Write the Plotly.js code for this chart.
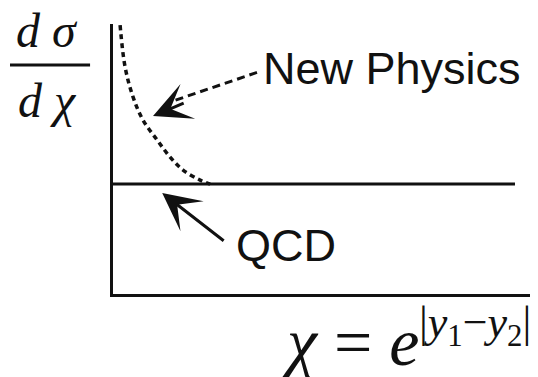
<!DOCTYPE html>
<html>
<head>
<meta charset="utf-8">
<script src="https://cdn.plot.ly/plotly-3.0.1.min.js"></script>
<style>
  body { margin: 0; background: #fff; }
  #chart { width: 538px; height: 377px; }
</style>
</head>
<body>
<div id="chart"></div>
<script>
// new physics curve (dashed), arbitrary units
var npX = [0.17, 0.29, 0.48, 0.72, 1.06, 1.37, 1.68, 2.09, 2.33];
var npY = [9.96, 8.41, 7.30, 6.44, 5.70, 5.07, 4.59, 4.22, 4.07];

// flat QCD expectation
var qcdX = [0, 9.64];
var qcdY = [4.07, 4.07];

// dashed pointer from the "New Physics" label
var ptrX = [1.5, 3.48];
var ptrY = [7.18, 8.22];

var curve = {
    x: npX,
    y: npY,
    mode: "lines",
    line: {color: "#111", width: 3.5, dash: "5px,4px", shape: "spline"},
    hoverinfo: "skip"
};

var qcd = {
    x: qcdX,
    y: qcdY,
    mode: "lines",
    line: {color: "#111", width: 3},
    hoverinfo: "skip"
};

var pointer = {
    x: ptrX,
    y: ptrY,
    mode: "lines",
    line: {color: "#111", width: 3, dash: "8px,5px"},
    hoverinfo: "skip"
};

var axisStyle = {
    range: [0, 10],
    showline: true,
    linecolor: "#111",
    linewidth: 3,
    showgrid: false,
    zeroline: false,
    showticklabels: false,
    ticks: "",
    fixedrange: true
};

var sans = {family: "Liberation Sans", size: 45, color: "#111"};
var serif = {family: "Liberation Serif", size: 48, color: "#111", style: "italic"};
var up = '<span style="font-style:normal">';

var layout = {
    width: 538,
    height: 377,
    margin: {l: 113, r: 8, t: 24, b: 83},
    paper_bgcolor: "#fff",
    plot_bgcolor: "#fff",
    showlegend: false,
    xaxis: axisStyle,
    yaxis: axisStyle,
    shapes: [
        // fraction bar of d sigma / d chi
        {type: "line", xref: "paper", yref: "paper",
         x0: -0.247, x1: -0.055, y0: 0.848, y1: 0.848,
         line: {color: "#111", width: 3}}
    ],
    annotations: [
        {xref: "x", yref: "y", x: 0.96, y: 6.59, axref: "x", ayref: "y", ax: 1.73, ay: 7.09,
         text: "", showarrow: true, arrowhead: 3, arrowsize: 2.1, arrowwidth: 3, arrowcolor: "#111", standoff: 0},
        {xref: "x", yref: "y", x: 1.18, y: 3.74, axref: "x", ayref: "y", ax: 2.69, ay: 1.93,
         text: "", showarrow: true, arrowhead: 3, arrowsize: 2.1, arrowwidth: 3, arrowcolor: "#111", standoff: 0},
        {xref: "paper", yref: "paper", x: 0.355, y: 0.835, xanchor: "left", yanchor: "middle",
         text: "New Physics", showarrow: false, font: sans},
        {xref: "paper", yref: "paper", x: 0.290, y: 0.18, xanchor: "left", yanchor: "middle",
         text: "QCD", showarrow: false, font: sans},
        {xref: "paper", yref: "paper", x: -0.158, y: 0.975, xanchor: "center", yanchor: "middle",
         text: "d σ", showarrow: false, font: serif},
        {xref: "paper", yref: "paper", x: -0.158, y: 0.715, xanchor: "center", yanchor: "middle",
         text: "d χ", showarrow: false, font: serif},
        {xref: "paper", yref: "paper", x: 0.397, y: -0.176, xanchor: "left", yanchor: "middle",
         text: "χ " + up + "=</span> e", showarrow: false,
         font: {family: "Liberation Serif", size: 68, color: "#111", style: "italic"}},
        {xref: "paper", yref: "paper", x: 0.73, y: -0.115, xanchor: "left", yanchor: "middle",
         text: up + "|</span>y<sub>" + up + "1</span></sub>" + up + "−</span>y<sub>" + up + "2</span></sub>" + up + "|</span>",
         showarrow: false, font: {family: "Liberation Serif", size: 44, color: "#111", style: "italic"}}
    ]
};

Plotly.newPlot("chart", [qcd, curve, pointer], layout, {staticPlot: true});
</script>
</body>
</html>
